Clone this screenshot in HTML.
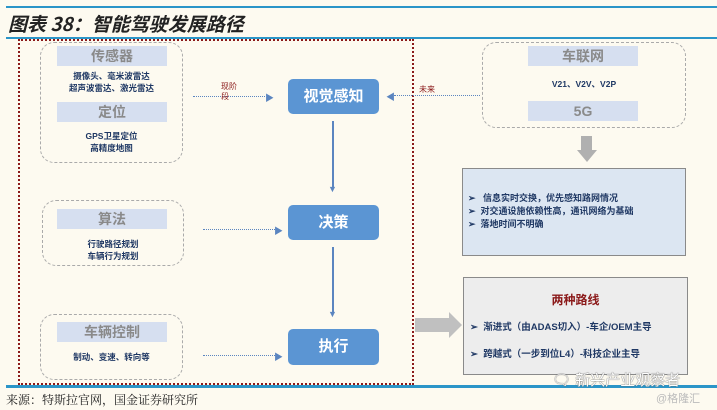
<!DOCTYPE html>
<html><head><meta charset="utf-8"><style>
*{margin:0;padding:0;box-sizing:border-box}
body{width:717px;height:410px;background:#fdfaf0;position:relative;overflow:hidden;font-family:"Liberation Sans","Noto Sans CJK SC",sans-serif}
.a{position:absolute}
.t{position:absolute;text-align:center;white-space:nowrap}
.band{position:absolute;background:#d6dff0;color:#8a8a8a;font-weight:bold;text-align:center}
.dbox{position:absolute;border:1px dashed #aaa;border-radius:14px}
.blue{position:absolute;background:#5b95d3;border-radius:5px;color:#fff;font-weight:bold;text-align:center;font-size:15px}
.sm{font-size:8.5px;color:#1f3864;font-weight:bold;line-height:12px}
.hd{position:absolute;height:0;border-top:1.5px dotted #5b85c0}
.vl{position:absolute;width:2px;background:#5b85c0}
</style></head><body>
<div class="a" style="left:6px;top:6px;width:711px;height:2px;background:#2b95c8"></div>
<div class="t" style="left:8px;top:10px;font-size:19px;font-style:italic;font-weight:bold;font-family:'Noto Sans CJK SC',sans-serif;color:#222">图表 38：智能驾驶发展路径</div>
<div class="a" style="left:6px;top:37px;width:711px;height:2px;background:#2b95c8"></div>
<div class="a" style="left:18px;top:39px;width:396px;height:346px;border:2px dotted #8b1a1a"></div>
<div class="a" style="left:6px;top:385px;width:711px;height:3px;background:#2b95c8"></div>
<div class="t" style="left:6px;top:391px;font-size:12px;font-family:'Noto Serif CJK SC',serif;color:#222">来源：特斯拉官网，国金证券研究所</div>

<div class="dbox" style="left:40px;top:42px;width:143px;height:121px"></div>
<div class="band" style="left:57px;top:46px;width:110px;height:20px;font-size:14px;line-height:20px">传感器</div>
<div class="t sm" style="left:40px;top:70px;width:143px">摄像头、毫米波雷达<br>超声波雷达、激光雷达</div>
<div class="band" style="left:57px;top:102px;width:110px;height:20px;font-size:14px;line-height:20px">定位</div>
<div class="t sm" style="left:40px;top:130px;width:143px">GPS卫星定位<br>高精度地图</div>

<div class="dbox" style="left:42px;top:200px;width:142px;height:66px"></div>
<div class="band" style="left:57px;top:209px;width:110px;height:20px;font-size:14px;line-height:20px">算法</div>
<div class="t sm" style="left:42px;top:238px;width:142px">行驶路径规划<br>车辆行为规划</div>

<div class="dbox" style="left:40px;top:314px;width:143px;height:66px"></div>
<div class="band" style="left:57px;top:322px;width:110px;height:20px;font-size:14px;line-height:20px">车辆控制</div>
<div class="t sm" style="left:40px;top:351px;width:143px">制动、变速、转向等</div>

<div class="hd" style="left:193px;top:96px;width:72px"></div>
<div class="t" style="left:265px;top:91px;font-size:9px;color:#5b85c0">▶</div>
<div class="t" style="left:221px;top:82px;font-size:8px;color:#8b1a1a;line-height:10px;text-align:left">现阶<br>段</div>
<div class="hd" style="left:203px;top:229px;width:72px"></div>
<div class="t" style="left:274px;top:224px;font-size:9px;color:#5b85c0">▶</div>
<div class="hd" style="left:203px;top:355px;width:72px"></div>
<div class="t" style="left:274px;top:350px;font-size:9px;color:#5b85c0">▶</div>

<div class="blue" style="left:288px;top:79px;width:91px;height:35px;line-height:35px">视觉感知</div>
<div class="blue" style="left:288px;top:205px;width:91px;height:35px;line-height:35px">决策</div>
<div class="blue" style="left:288px;top:329px;width:91px;height:36px;line-height:36px">执行</div>
<div class="vl" style="left:332px;top:121px;height:68px"></div>
<div class="t" style="left:328px;top:184px;font-size:9px;color:#5b85c0">▼</div>
<div class="vl" style="left:332px;top:247px;height:66px"></div>
<div class="t" style="left:328px;top:309px;font-size:9px;color:#5b85c0">▼</div>

<div class="hd" style="left:394px;top:95px;width:86px"></div>
<div class="t" style="left:386px;top:90px;font-size:9px;color:#5b85c0">◀</div>
<div class="t" style="left:419px;top:84px;font-size:8px;color:#8b1a1a">未来</div>

<div class="dbox" style="left:482px;top:42px;width:204px;height:86px"></div>
<div class="band" style="left:528px;top:46px;width:110px;height:20px;font-size:14px;line-height:20px">车联网</div>
<div class="t sm" style="left:482px;top:78px;width:204px">V21、V2V、V2P</div>
<div class="band" style="left:528px;top:101px;width:110px;height:20px;font-size:14px;line-height:20px">5G</div>

<div class="a" style="left:581px;top:136px;width:11px;height:14px;background:#b0b0b0"></div>
<div class="a" style="left:577px;top:150px;width:0;height:0;border-left:10px solid transparent;border-right:10px solid transparent;border-top:12px solid #b0b0b0"></div>

<div class="a" style="left:462px;top:168px;width:224px;height:88px;background:#dce6f2;border:1px solid #8a8a8a"></div>
<div class="a sm" style="left:468px;top:192px;font-size:9px;line-height:13px;white-space:nowrap">➢&nbsp;&nbsp; 信息实时交换，优先感知路网情况<br>➢&nbsp; 对交通设施依赖性高，通讯网络为基础<br>➢&nbsp; 落地时间不明确</div>

<div class="a" style="left:415px;top:318px;width:34px;height:14px;background:#c0c0c0"></div>
<div class="a" style="left:449px;top:312px;width:0;height:0;border-top:13px solid transparent;border-bottom:13px solid transparent;border-left:13px solid #c0c0c0"></div>

<div class="a" style="left:463px;top:277px;width:225px;height:98px;background:#ededed;border:1px solid #8a8a8a"></div>
<div class="t" style="left:463px;top:291px;width:225px;font-size:12px;font-weight:bold;color:#8b1a1a">两种路线</div>
<div class="a sm" style="left:470px;top:322px;font-size:9.5px;white-space:nowrap">➢&nbsp; 渐进式（由ADAS切入）-车企/OEM主导</div>
<div class="a sm" style="left:470px;top:349px;font-size:9.5px;white-space:nowrap">➢&nbsp; 跨越式（一步到位L4）-科技企业主导</div>

<div class="t" style="left:552px;top:369px;font-size:15px;color:#fff;text-shadow:0 0 1px #666,0 0 1px #666">🗨 新兴产业观察者</div>
<div class="t" style="left:656px;top:390px;font-size:11px;color:#bbb">@格隆汇</div>
</body></html>
